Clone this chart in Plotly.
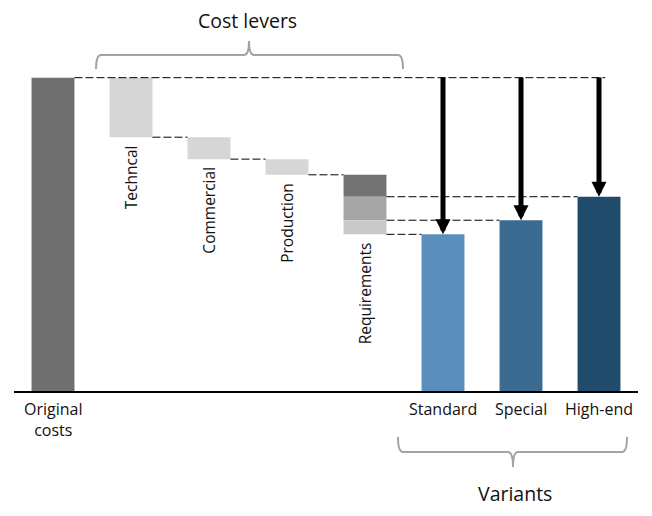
import plotly.graph_objects as go

# ---------------- data ----------------
categories = ["Original costs", "Techncal", "Commercial", "Production",
              "Requirements", "Standard", "Special", "High-end"]
original_cost = 100
lever_names = ["Techncal", "Commercial", "Production"]
lever_savings = [19, 7, 5]
requirement_segments = [7, 7.5, 4.5]          # top (dark) -> bottom (light)
variant_names = ["Standard", "Special", "High-end"]
variant_costs = [50, 54.5, 62]
bottom_labels = ["Original<br>costs", "Standard", "Special", "High-end"]

# ---------------- styles ----------------
C_ORIG = "#6f6f6f"
C_LEVER = "#d6d6d6"
C_REQ = ["#727272", "#a6a6a6", "#c9c9c9"]
C_VAR = ["#5a8fbd", "#3c6b92", "#214b6b"]
BW = 0.55
FONT = "Open Sans"
TXT = "#111111"

OFF = 8  # page body margin
W, H = 652 - OFF, 516 - OFF
ML, MT = 14 - OFF, 62 - OFF
MR = W - (638 - OFF)
MB = H - (391 - OFF)
XR = [-0.5, 7.5]
YR = [0, 105]
PW, PH = W - ML - MR, H - MT - MB


def px_x(p):
    return (p - OFF - ML) / PW


def px_y(p):
    return (H - MB - (p - OFF)) / PH


fig = go.Figure()

# original bar
fig.add_trace(go.Bar(x=[0], y=[original_cost], base=[0], width=BW,
                     marker=dict(color=C_ORIG, line=dict(width=0))))

# lever bars
level = original_cost
lever_levels = []
for i, s in enumerate(lever_savings):
    bottom = level - s
    fig.add_trace(go.Bar(x=[i + 1], y=[s], base=[bottom], width=BW,
                         marker=dict(color=C_LEVER, line=dict(width=0))))
    lever_levels.append((level, bottom))
    level = bottom

# requirement stacked segments
req_levels = []
top = level
for seg, col in zip(requirement_segments, C_REQ):
    fig.add_trace(go.Bar(x=[4], y=[seg], base=[top - seg], width=BW,
                         marker=dict(color=col, line=dict(width=0))))
    req_levels.append(top - seg)
    top -= seg

# variant bars
for j, (v, col) in enumerate(zip(variant_costs, C_VAR)):
    fig.add_trace(go.Bar(x=[5 + j], y=[v], base=[0], width=BW,
                         marker=dict(color=col, line=dict(width=0))))

shapes = []
dash = dict(color="black", width=1, dash="8px,3px")
# top line from original bar to arrows
shapes.append(dict(type="line", xref="x", yref="y", x0=BW / 2, x1=7.08,
                   y0=original_cost, y1=original_cost, line=dash))
# connectors between levers
ends = [lv[1] for lv in lever_levels]
for i, e in enumerate(ends):
    shapes.append(dict(type="line", xref="x", yref="y", x0=i + 1 + BW / 2,
                       x1=i + 2 - BW / 2, y0=e, y1=e, line=dash))
# from requirements to variants
for j, v in enumerate(variant_costs):
    shapes.append(dict(type="line", xref="x", yref="y", x0=4 + BW / 2,
                       x1=5 + j - BW / 2, y0=v, y1=v, line=dash))

# braces
brace = dict(color="#a3a3a3", width=2)


def brace_path(x0, x1, xm, ytip, yline, ypeak):
    P = lambda x, y: f"{px_x(x):.5f},{px_y(y):.5f}"
    return (f"M {P(x0, ytip)} Q {P(x0, yline)} {P(x0 + 5, yline)} "
            f"L {P(xm - 5, yline)} Q {P(xm, yline)} {P(xm, ypeak)} "
            f"Q {P(xm, yline)} {P(xm + 5, yline)} "
            f"L {P(x1 - 5, yline)} Q {P(x1, yline)} {P(x1, ytip)}")


shapes.append(dict(type="path", xref="paper", yref="paper",
                   path=brace_path(96, 403, 249, 69, 55, 41), line=brace))
shapes.append(dict(type="path", xref="paper", yref="paper",
                   path=brace_path(398, 627, 513, 437, 452, 467), line=brace))

annotations = []
# arrows
for j, v in enumerate(variant_costs):
    annotations.append(dict(x=5 + j, y=v, ax=5 + j, ay=original_cost + 0.5,
                            xref="x", yref="y", axref="x", ayref="y",
                            text="", showarrow=True, arrowhead=2,
                            arrowsize=0.6, arrowwidth=5, arrowcolor="black",
                            standoff=0))
# rotated labels
for i, name in enumerate(lever_names):
    annotations.append(dict(x=i + 1, y=lever_levels[i][1], xref="x", yref="y",
                            text=name, textangle=-90, showarrow=False,
                            xanchor="center", yanchor="top", yshift=-6,
                            font=dict(family=FONT, size=15.5, color=TXT)))
annotations.append(dict(x=4, y=req_levels[-1], xref="x", yref="y",
                        text="Requirements", textangle=-90, showarrow=False,
                        xanchor="center", yanchor="top", yshift=-6,
                        font=dict(family=FONT, size=15.5, color=TXT)))
# bottom labels
for xv, lab in zip([0, 5, 6, 7], bottom_labels):
    annotations.append(dict(x=xv, y=0, xref="x", yref="paper", text=lab,
                            showarrow=False, xanchor="center", yanchor="top",
                            yshift=-5,
                            font=dict(family=FONT, size=16, color=TXT)))
# brace titles
annotations.append(dict(x=px_x(247), y=px_y(21), xref="paper", yref="paper",
                        text="Cost levers", showarrow=False,
                        xanchor="center", yanchor="middle",
                        font=dict(family=FONT, size=19.5, color=TXT)))
annotations.append(dict(x=px_x(515), y=px_y(493), xref="paper", yref="paper",
                        text="Variants", showarrow=False,
                        xanchor="center", yanchor="middle",
                        font=dict(family=FONT, size=19.5, color=TXT)))

fig.update_layout(
    width=W, height=H,
    margin=dict(l=ML, r=MR, t=MT, b=MB, pad=0),
    paper_bgcolor="white", plot_bgcolor="white",
    barmode="overlay", showlegend=False,
    xaxis=dict(range=XR, showline=True, linecolor="black", linewidth=2,
               showticklabels=False, ticks="", showgrid=False, zeroline=False,
               fixedrange=True),
    yaxis=dict(range=YR, visible=False, showgrid=False, zeroline=False,
               fixedrange=True),
    shapes=shapes, annotations=annotations,
    font=dict(family=FONT, color=TXT),
)

fig.write_html("out.html", config=dict(displayModeBar=False))
